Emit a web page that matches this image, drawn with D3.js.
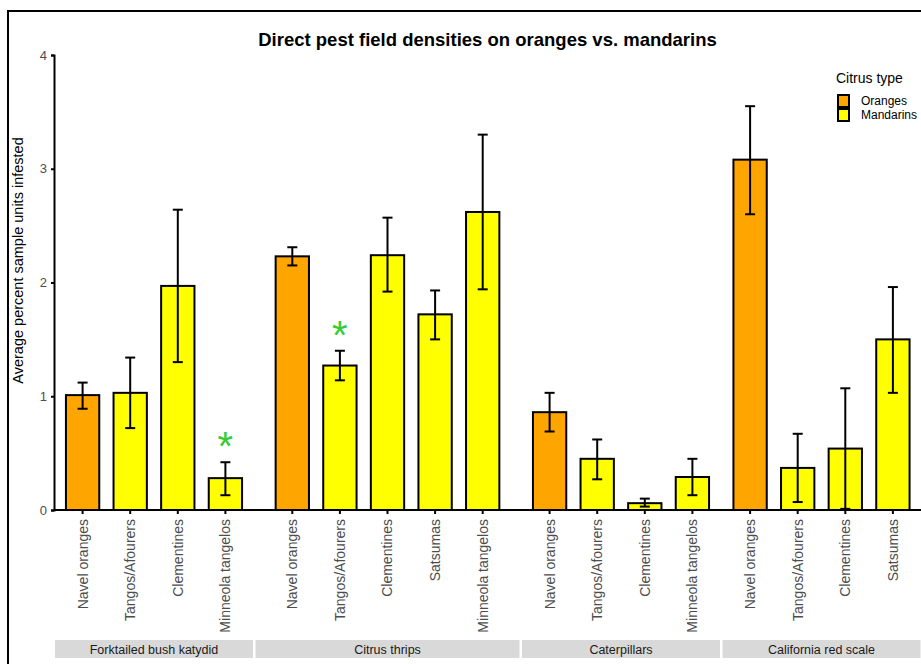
<!DOCTYPE html>
<html>
<head>
<meta charset="utf-8">
<script src="https://cdn.jsdelivr.net/npm/d3@7"></script>
<style>
  body { margin: 0; background: #fff; }
  text { font-family: "Liberation Sans", Arial, sans-serif; }
</style>
</head>
<body>
<div id="chart"></div>
<script>
// facets (pests) and the citrus varieties in each one
var pests = ["Forktailed bush katydid", "Citrus thrips", "Caterpillars", "California red scale"];
var pestOf = [0, 0, 0, 0, 1, 1, 1, 1, 1, 2, 2, 2, 2, 3, 3, 3, 3];
var variety = ["Navel oranges", "Tangos/Afourers", "Clementines", "Minneola tangelos",
               "Navel oranges", "Tangos/Afourers", "Clementines", "Satsumas", "Minneola tangelos",
               "Navel oranges", "Tangos/Afourers", "Clementines", "Minneola tangelos",
               "Navel oranges", "Tangos/Afourers", "Clementines", "Satsumas"];
var citrusType = ["Oranges", "Mandarins", "Mandarins", "Mandarins",
                  "Oranges", "Mandarins", "Mandarins", "Mandarins", "Mandarins",
                  "Oranges", "Mandarins", "Mandarins", "Mandarins",
                  "Oranges", "Mandarins", "Mandarins", "Mandarins"];
var means = [1.01, 1.03, 1.97, 0.28,  2.23, 1.27, 2.24, 1.72, 2.62,  0.86, 0.45, 0.06, 0.29,  3.08, 0.37, 0.54, 1.50];
var lower = [0.89, 0.72, 1.30, 0.13,  2.15, 1.14, 1.92, 1.50, 1.94,  0.69, 0.27, 0.03, 0.13,  2.60, 0.07, 0.01, 1.03];
var upper = [1.12, 1.34, 2.64, 0.42,  2.31, 1.40, 2.57, 1.93, 3.30,  1.03, 0.62, 0.10, 0.45,  3.55, 0.67, 1.07, 1.96];
var signif = [false, false, false, true,  false, true, false, false, false,
              false, false, false, false,  false, false, false, false];
var yTicks = [0, 1, 2, 3, 4];
var legendKeys = ["Oranges", "Mandarins"];
var legendColors = ["#FFA500", "#FFFF00"];

var width = 921, height = 664;
var plotLeft = 54, plotRight = 921, plotTop = 55, plotBottom = 510;
var facetWidths = [198, 264, 198, 198];
var facetGap = 2.5;
var step = 47.6;

var color = d3.scaleOrdinal().domain(legendKeys).range(legendColors);

var y = d3.scaleLinear().domain([0, 4]).range([plotBottom, plotTop]);

var rows = means.map(function(m, i) {
    return {pest: pestOf[i], variety: variety[i], type: citrusType[i],
            mean: m, lo: lower[i], hi: upper[i], sig: signif[i]};
});

// one band scale per facet
var facets = [];
var x0 = plotLeft + 1;
pests.forEach(function(p, i) {
    var vars = rows.filter(function(r) { return r.pest === i; }).map(function(r) { return r.variety; });
    var mid = x0 + facetWidths[i] / 2;
    var band = d3.scaleBand()
        .domain(vars)
        .range([mid - vars.length * step / 2, mid + vars.length * step / 2])
        .paddingInner(0.3)
        .paddingOuter(0.15);
    facets.push({name: p, x: x0, w: facetWidths[i], band: band});
    x0 += facetWidths[i] + facetGap;
});

function cx(r) {
    var b = facets[r.pest].band;
    return b(r.variety) + b.bandwidth() / 2;
}

var svg = d3.select("#chart").append("svg")
    .attr("width", width)
    .attr("height", height);

svg.append("rect").attr("width", width).attr("height", height).attr("fill", "#fff");

// outer frame
svg.append("rect")
    .attr("x", 8).attr("y", 11)
    .attr("width", width + 10).attr("height", height + 10)
    .attr("fill", "none")
    .attr("stroke", "#000")
    .attr("stroke-width", 2);

svg.append("text")
    .attr("x", (plotLeft + plotRight) / 2)
    .attr("y", 46)
    .attr("text-anchor", "middle")
    .attr("font-size", 18.5)
    .attr("font-weight", "bold")
    .attr("fill", "#000")
    .text("Direct pest field densities on oranges vs. mandarins");

// y axis
var yAxis = svg.append("g")
    .attr("transform", "translate(" + plotLeft + ",0)")
    .call(d3.axisLeft(y).tickValues(yTicks).tickFormat(d3.format("d")).tickSize(3).tickPadding(4));
yAxis.select(".domain").attr("stroke", "#000").attr("stroke-width", 2);
yAxis.selectAll(".tick line").attr("stroke", "#000").attr("stroke-width", 2);
yAxis.selectAll(".tick text").attr("fill", "#4d4d4d").attr("font-size", 13)
    .style("font-family", "'Liberation Sans', Arial, sans-serif");

svg.append("text")
    .attr("transform", "translate(23," + ((plotTop + plotBottom) / 2 - 22) + ") rotate(-90)")
    .attr("text-anchor", "middle")
    .attr("font-size", 14.5)
    .attr("fill", "#000")
    .text("Average percent sample units infested");

// bars
svg.selectAll(".bar")
    .data(rows)
    .enter().append("rect")
    .attr("class", "bar")
    .attr("x", function(d) { return facets[d.pest].band(d.variety); })
    .attr("y", function(d) { return y(d.mean); })
    .attr("width", function(d) { return facets[d.pest].band.bandwidth(); })
    .attr("height", function(d) { return y(0) - y(d.mean); })
    .attr("fill", function(d) { return color(d.type); })
    .attr("stroke", "#000")
    .attr("stroke-width", 2);

// error bars
var err = svg.selectAll(".err")
    .data(rows)
    .enter().append("g")
    .attr("class", "err")
    .attr("stroke", "#000")
    .attr("stroke-width", 2);
err.append("line")
    .attr("x1", cx).attr("x2", cx)
    .attr("y1", function(d) { return y(d.lo); })
    .attr("y2", function(d) { return y(d.hi); });
err.append("line")
    .attr("x1", function(d) { return cx(d) - 5; }).attr("x2", function(d) { return cx(d) + 5; })
    .attr("y1", function(d) { return y(d.hi); }).attr("y2", function(d) { return y(d.hi); });
err.append("line")
    .attr("x1", function(d) { return cx(d) - 5; }).attr("x2", function(d) { return cx(d) + 5; })
    .attr("y1", function(d) { return y(d.lo); }).attr("y2", function(d) { return y(d.lo); });

// significance stars
svg.selectAll(".star")
    .data(rows.filter(function(d) { return d.sig; }))
    .enter().append("text")
    .attr("class", "star")
    .attr("x", cx)
    .attr("y", function(d) { return y(d.hi) - 2; })
    .attr("text-anchor", "middle")
    .attr("font-size", 40)
    .attr("fill", "#33CC33")
    .text("*");

// x axis line
svg.append("line")
    .attr("x1", plotLeft).attr("x2", plotRight)
    .attr("y1", plotBottom).attr("y2", plotBottom)
    .attr("stroke", "#000").attr("stroke-width", 2);

// x ticks and labels per facet
facets.forEach(function(f) {
    var g = svg.append("g")
        .attr("transform", "translate(0," + plotBottom + ")")
        .call(d3.axisBottom(f.band).tickSize(4).tickPadding(6));
    g.select(".domain").remove();
    g.selectAll(".tick line").attr("stroke", "#000").attr("stroke-width", 2);
    g.selectAll(".tick text")
        .attr("fill", "#4d4d4d")
        .attr("font-size", 14)
        .style("font-family", "'Liberation Sans', Arial, sans-serif")
        .attr("transform", "rotate(-90)")
        .attr("text-anchor", "end")
        .attr("dy", "0.35em")
        .attr("x", -9)
        .attr("y", 0);

    svg.append("rect")
        .attr("x", f.x).attr("y", 640)
        .attr("width", f.w).attr("height", 18)
        .attr("fill", "#d9d9d9");
    svg.append("text")
        .attr("x", f.x + f.w / 2).attr("y", 653.5)
        .attr("text-anchor", "middle")
        .attr("font-size", 12.5)
        .attr("fill", "#1a1a1a")
        .text(f.name);
});

// legend
var legend = svg.append("g").attr("transform", "translate(836,0)");
legend.append("text")
    .attr("x", 0).attr("y", 83)
    .attr("font-size", 14)
    .attr("fill", "#000")
    .text("Citrus type");
var item = legend.selectAll(".key")
    .data(legendKeys)
    .enter().append("g")
    .attr("class", "key")
    .attr("transform", function(d, i) { return "translate(0," + (95 + i * 14) + ")"; });
item.append("rect")
    .attr("x", 2).attr("y", 0)
    .attr("width", 11).attr("height", 12)
    .attr("fill", function(d) { return color(d); })
    .attr("stroke", "#000")
    .attr("stroke-width", 2);
item.append("text")
    .attr("x", 25).attr("y", 10)
    .attr("font-size", 12)
    .attr("fill", "#000")
    .text(function(d) { return d; });
</script>
</body>
</html>
